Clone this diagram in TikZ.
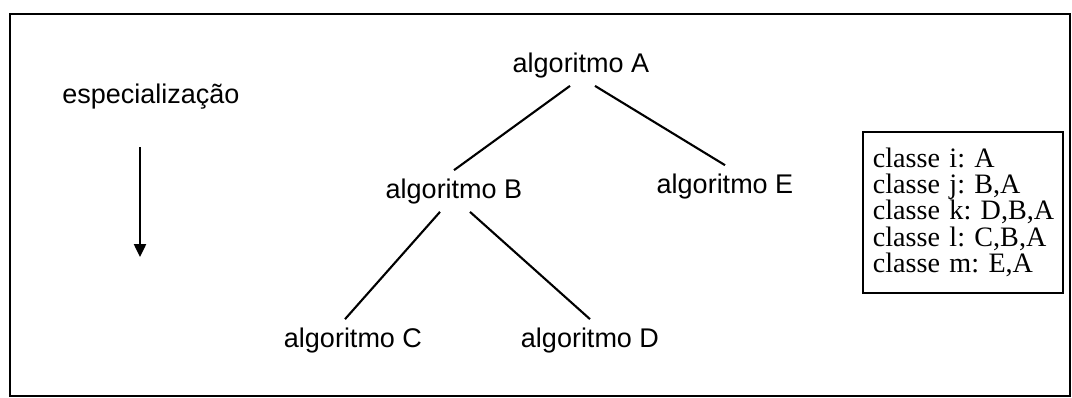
\documentclass[tikz,border=0pt]{standalone}
\usepackage{fontspec}
\setmainfont{Liberation Serif}
\setsansfont{Liberation Sans}
\usepackage{tikz}
\usetikzlibrary{arrows.meta}
\frenchspacing

\begin{document}
\begin{tikzpicture}[
  x=0.025cm, y=-0.025cm,
  alg/.style={anchor=base, inner sep=0.2cm, font=\sffamily\fontsize{19.2}{23}\selectfont},
  lista/.style={
    draw, line width=1.3pt, anchor=north west, align=left,
    text width=4.5cm, inner xsep=0.25cm, inner ysep=0.39cm,
    font=\rmfamily\fontsize{20}{18.8}\selectfont
  },
  link/.style={line width=1.5pt},
  seta/.style={-{Triangle[width=0.3cm,length=0.32cm]}, line width=1.3pt}
]
  \useasboundingbox (0,0) rectangle (1072,397);
  \draw[line width=1.6pt] (10,14) rectangle (1070,396);

  % direcao da especializacao
  \node[alg] (esp) at (151,103) {especialização};
  \coordinate (setaTopo) at (140,147);
  \coordinate (setaFim) at (140,257);
  \draw[seta] (setaTopo) -- (setaFim);

  % arvore de algoritmos
  \node[alg] (algA) at (581,72) {algoritmo A};
  \node[alg] (algB) at (454,198) {algoritmo B};
  \node[alg] (algE) at (725,193) {algoritmo E};
  \node[alg] (algC) at (353,347) {algoritmo C};
  \node[alg] (algD) at (590,347) {algoritmo D};

  \draw[link] ([xshift=-0.275cm]algA.south) -- (algB.north);
  \draw[link] ([xshift=0.35cm]algA.south) -- (algE.north);
  \draw[link] ([xshift=-0.35cm]algB.south) -- ([xshift=-0.2cm]algC.north);
  \draw[link] ([xshift=0.4cm]algB.south) -- (algD.north);

  % classes
  \node[lista] (classes) at (862,131) {classe~i:~A\\
    classe~j:~B,A\\
    classe~k:~D,B,A\\
    classe~l:~C,B,A\\
    classe~m:~E,A};
\end{tikzpicture}
\end{document}
